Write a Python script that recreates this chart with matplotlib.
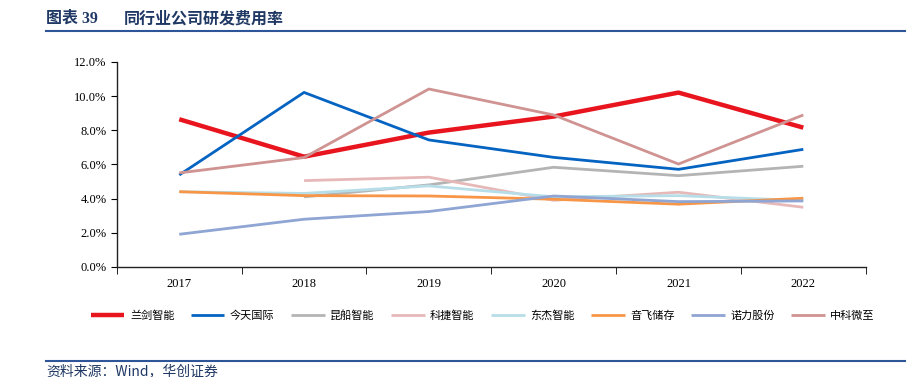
import numpy as np
import matplotlib.pyplot as plt
from matplotlib.ticker import FuncFormatter

plt.rcParams['font.family'] = ['Liberation Serif', 'Noto Sans CJK SC', 'DejaVu Sans']

years = ['2017', '2018', '2019', '2020', '2021', '2022']
names = ['兰剑智能', '今天国际', '昆船智能', '科捷智能', '东杰智能', '音飞储存', '诺力股份', '中科微至']

lanjian = [8.64, 6.45, 7.86, 8.80, 10.20, 8.15]
jintian = [5.38, 10.21, 7.43, 6.41, 5.71, 6.88]
kunchuan = [np.nan, 4.10, 4.80, 5.83, 5.34, 5.89]
kejie = [np.nan, 5.05, 5.25, 3.90, 4.37, 3.49]
dongjie = [4.40, 4.30, 4.74, 4.10, 4.17, 3.88]
yinfei = [4.40, 4.17, 4.15, 3.96, 3.67, 4.02]
nuoli = [1.91, 2.79, 3.24, 4.15, 3.82, 3.86]
zhongke = [5.50, 6.40, 10.41, 8.89, 6.02, 8.89]

series = [lanjian, jintian, kunchuan, kejie, dongjie, yinfei, nuoli, zhongke]
colors = ['#E8141E', '#0563C1', '#B4B4B4', '#E6B9B8', '#B7DEE8', '#F79646', '#8FA5D3', '#CF9392']
widths = [3.2, 2.0, 2.0, 2.0, 2.0, 2.0, 2.0, 2.0]

fig = plt.figure(figsize=(9.2, 3.77), dpi=100)
ax = fig.add_axes([0.127, 0.292, 0.814, 0.544])

x = np.arange(len(years))
handles = []
for vals, c, w, n in zip(series, colors, widths, names):
    h, = ax.plot(x, np.array(vals) / 100, color=c, lw=w, label=n, solid_capstyle='butt')
    handles.append(h)

ax.set_xlim(-0.5, len(years) - 0.5)
ax.set_ylim(0, 0.12)
ax.set_yticks(np.arange(0, 0.121, 0.02))
ax.yaxis.set_major_formatter(FuncFormatter(lambda v, p: f'{v*100:.1f}%'))
ax.set_xticks(x)
ax.set_xticklabels(years)
ax.set_xticks(np.arange(-0.5, len(years), 1), minor=True)
ax.tick_params(axis='x', which='major', length=0, pad=8, labelsize=9)
ax.tick_params(axis='x', which='minor', length=5, direction='out')
ax.tick_params(axis='y', length=4, direction='out', labelsize=9)
for s in ['top', 'right']:
    ax.spines[s].set_visible(False)
for s in ['left', 'bottom']:
    ax.spines[s].set_linewidth(1.0)
    ax.spines[s].set_color('#222222')

fig.legend(handles=handles, loc='center', bbox_to_anchor=(0.525, 0.162), ncol=8, frameon=False,
           prop={'family': ['Noto Sans CJK SC'], 'size': 8}, handlelength=3.0, columnspacing=1.5,
           handletextpad=0.5)

# title and rules
fig.text(0.05, 0.951, '图表 39', fontsize=11.5, fontweight='bold', color='#1F3864',
         family=['Liberation Serif', 'Noto Sans CJK SC'], va='center')
fig.text(0.135, 0.951, '同行业公司研发费用率', fontsize=11.5, fontweight='bold', color='#1F3864',
         family=['Noto Sans CJK SC'], va='center')
fig.add_artist(plt.Line2D([0.05, 0.984], [0.918, 0.918], color='#2E5597', lw=1.5))
fig.add_artist(plt.Line2D([0.05, 0.984], [0.042, 0.042], color='#2E5597', lw=1.5))
fig.text(0.05, -0.002, '资料来源：Wind，华创证券', fontsize=10, style='italic', color='#1F3864',
         family=['Noto Sans CJK SC', 'Liberation Serif'], va='bottom')

fig.savefig('out.png', dpi=100)
